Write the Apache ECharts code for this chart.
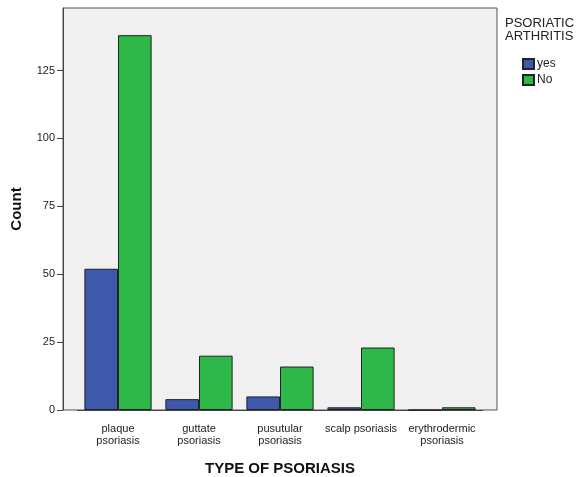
<!DOCTYPE html>
<html><head><meta charset="utf-8">
<script src="https://cdn.jsdelivr.net/npm/echarts@6/dist/echarts.min.js"></script>
<style>html,body{margin:0;padding:0;background:#fff}#c{width:577px;height:477px}</style>
</head><body><div id="c"></div>
<script>
const categories = ['plaque\npsoriasis', 'guttate\npsoriasis', 'pusutular\npsoriasis', 'scalp psoriasis', 'erythrodermic\npsoriasis'];
const yesValues = [52, 4, 5, 1, 0];
const noValues = [138, 20, 16, 23, 1];
const yTicks = [0, 25, 50, 75, 100, 125];

const chart = echarts.init(document.getElementById('c'));
const font = 'Liberation Sans, Arial, sans-serif';
const pad = 14.5;
chart.setOption({
  animation: false,
  textStyle: { fontFamily: font },
  title: {
    text: 'PSORIATIC\nARTHRITIS', left: 500, top: 12,
    textStyle: { fontSize: 13, fontWeight: 'normal', color: '#222', lineHeight: 13, fontFamily: font }
  },
  legend: {
    orient: 'vertical', left: 517, top: 53, itemWidth: 11, itemHeight: 10, itemGap: 4,
    icon: 'rect',
    textStyle: { fontSize: 12, color: '#222', padding: [0,0,0,-2], fontFamily: font },
    data: ['yes', 'No']
  },
  grid: [
    { left: 63, right: 80, top: 8, bottom: 67, show: true, outerBoundsMode: 'none', containLabel: false,
      backgroundColor: '#f0f0f0', borderColor: '#555', borderWidth: 1 },
    { left: 63 + pad, right: 80 + pad, top: 8, bottom: 67, outerBoundsMode: 'none', containLabel: false }
  ],
  xAxis: [
    { gridIndex: 0, type: 'value', show: false, min: 0, max: 1 },
    {
      gridIndex: 1, type: 'category', data: categories,
      name: 'TYPE OF PSORIASIS', nameLocation: 'middle', nameGap: 51,
      nameTextStyle: { fontSize: 15, fontWeight: 'bold', color: '#111', fontFamily: font },
      axisLine: { lineStyle: { color: '#444' } },
      axisTick: { alignWithLabel: true, length: 7, lineStyle: { color: '#444' } },
      axisLabel: { interval: 0, fontSize: 11, color: '#222', lineHeight: 12, margin: 13 }
    }
  ],
  yAxis: [
    { gridIndex: 0, type: 'value', show: false, min: 0, max: 1 },
    {
      gridIndex: 1, type: 'value', min: 0, max: 148, offset: pad,
      name: 'Count', nameLocation: 'middle', nameGap: 39,
      nameTextStyle: { fontSize: 15, fontWeight: 'bold', color: '#111', fontFamily: font },
      splitLine: { show: false },
      axisLine: { show: true, lineStyle: { color: '#444' } },
      axisTick: { show: true, length: 6, customValues: yTicks, lineStyle: { color: '#444' } },
      axisLabel: { fontSize: 11, color: '#222', margin: 8, customValues: yTicks }
    }
  ],
  series: [
    { name: 'yes', type: 'bar', xAxisIndex: 1, yAxisIndex: 1, data: yesValues, barGap: '0%', barCategoryGap: '17%',
      itemStyle: { color: '#3e58ac', borderColor: '#222', borderWidth: 1 } },
    { name: 'No', type: 'bar', xAxisIndex: 1, yAxisIndex: 1, data: noValues, barGap: '0%', barCategoryGap: '17%',
      itemStyle: { color: '#2eb84a', borderColor: '#222', borderWidth: 1 } }
  ]
});
</script></body></html>
